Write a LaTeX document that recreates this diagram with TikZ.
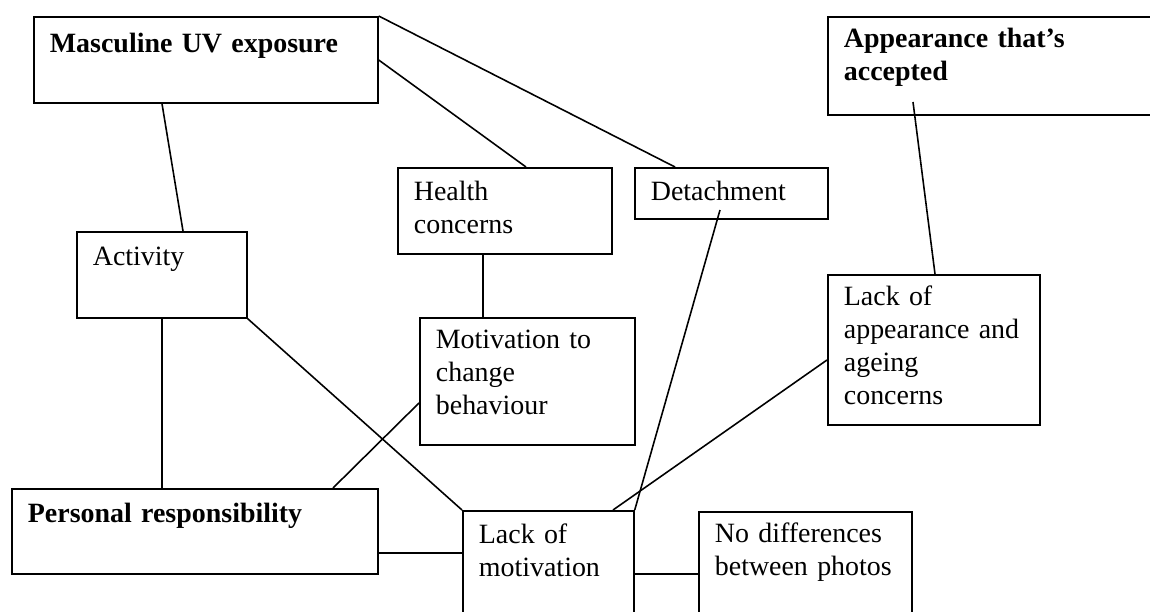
\documentclass[tikz,border=0pt]{standalone}
\usepackage{fontspec}
\setmainfont{Liberation Serif}
\usetikzlibrary{calc}

\tikzset{
    bx/.style={draw, line width=1pt, anchor=north west, inner xsep=0.32cm, inner ysep=0pt,
        align=left, font=\fontsize{15.9}{18.8}\selectfont},
    dims/.style n args={3}{text width=#1, text height=#2, text depth=#3},
    every edge/.style={draw, line width=0.9pt}
}

\begin{document}
\begin{tikzpicture}[x=0.02cm, y=-0.02cm]
        \clip (0,0) rectangle (1150,612);
        \node[bx, dims={6.24cm}{0.72cm}{1.00cm}](mas) at (33,16)  {\bfseries Masculine UV exposure};
        \node[bx, dims={6.16cm}{0.62cm}{1.34cm}](app) at (827,16) {\bfseries Appearance that’s\\\bfseries accepted};
        \node[bx, dims={3.64cm}{0.66cm}{1.06cm}](hc)  at (397,167) {Health\\concerns};
        \node[bx, dims={3.22cm}{0.66cm}{0.36cm}](det) at (634,167) {Detachment};
        \node[bx, dims={2.76cm}{0.68cm}{1.04cm}](act) at (76,231)  {Activity};
        \node[bx, dims={3.66cm}{0.62cm}{1.92cm}](mot) at (419,317) {Motivation to\\change\\behaviour};
        \node[bx, dims={3.60cm}{0.62cm}{2.38cm}](loa) at (827,274) {Lack of\\appearance and\\ageing\\concerns};
        \node[bx, dims={6.68cm}{0.68cm}{1.02cm}](pr)  at (11,488)  {\bfseries Personal responsibility};
        \node[bx, dims={2.78cm}{0.66cm}{1.74cm}](lom) at (462,510) {Lack of\\motivation};
        \node[bx, dims={3.62cm}{0.62cm}{1.78cm}](nd)  at (698,511) {No differences\\between photos};
        \path
            ($(mas.south west)+(129,0)$) edge ($(act.north west)+(107,0)$)
            ($(mas.north east)+(0,44)$)  edge ($(hc.north west)+(129,0)$)
            (mas.north east)             edge ($(det.north west)+(41,0)$)
            ($(app.north west)+(86,86)$) edge ($(loa.north west)+(108,0)$)
            ($(hc.south west)+(86,0)$)   edge ($(mot.north west)+(64,0)$)
            ($(det.north west)+(86,43)$) edge (lom.north east)
            (act.south east)             edge (lom.north west)
            ($(act.south west)+(86,0)$)  edge ($(pr.north west)+(151,0)$)
            ($(mot.north west)+(0,86)$)  edge ($(pr.north west)+(322,0)$)
            ($(loa.north west)+(0,86)$)  edge ($(lom.north west)+(151,0)$)
            ($(pr.north east)+(0,65)$)   edge ($(lom.north west)+(0,43)$)
            ($(lom.north east)+(0,64)$)  edge ($(nd.north west)+(0,63)$)
            ;
    \end{tikzpicture}
\end{document}
